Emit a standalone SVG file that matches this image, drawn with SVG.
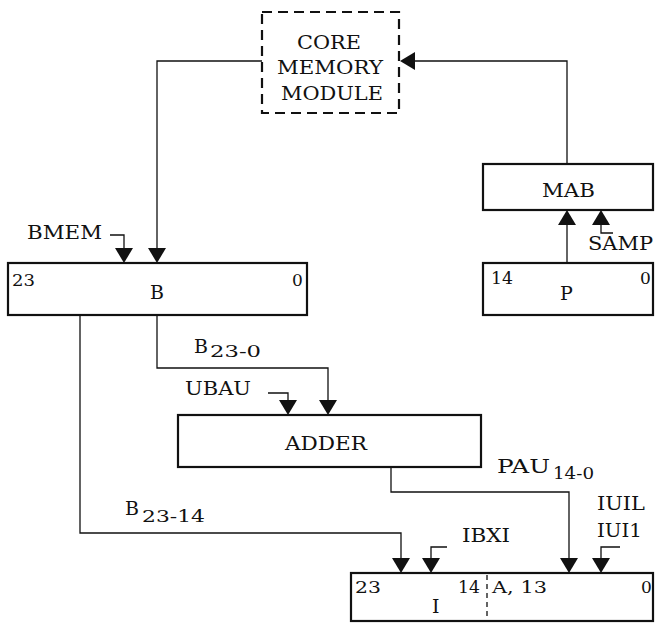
<svg xmlns="http://www.w3.org/2000/svg" width="656" height="623" viewBox="0 0 656 623">
<style>
text{font-family:"DejaVu Serif","Liberation Serif",serif;font-size:19px;fill:#111}
.n{font-size:17px}
.s{font-size:17px}
.box{fill:#fff;stroke:#111;stroke-width:2.2}
.dash{fill:#fff;stroke:#111;stroke-width:2.2;stroke-dasharray:10 6}
.ln{fill:none;stroke:#111;stroke-width:1.3}
.ah{fill:#111}
</style>
<rect width="656" height="623" fill="#fff"/>
<g id="connectors">
<path class="ln" d="M262 61 H157 V250"/>
<path class="ln" d="M567 164 V61 H414"/>
<path class="ln" d="M110 235 H124 V250"/>
<path class="ln" d="M567 263 V224"/>
<path class="ln" d="M613 233 H601 V224"/>
<path class="ln" d="M80 315 V533 H401 V558"/>
<path class="ln" d="M157 315 V368 H328 V400"/>
<path class="ln" d="M268 393 H288 V400"/>
<path class="ln" d="M391 467 V492 H569 V558"/>
<path class="ln" d="M447 547 H431 V558"/>
<path class="ln" d="M620 547 H601 V558"/>
<polygon class="ah" points="148,248 166,248 157,263"/>
<polygon class="ah" points="115,248 133,248 124,263"/>
<polygon class="ah" points="400,61 415,52 415,70"/>
<polygon class="ah" points="558,225 576,225 567,210"/>
<polygon class="ah" points="592,225 610,225 601,210"/>
<polygon class="ah" points="319,400 337,400 328,415"/>
<polygon class="ah" points="279,400 297,400 288,415"/>
<polygon class="ah" points="392,558 410,558 401,573"/>
<polygon class="ah" points="422,558 440,558 431,573"/>
<polygon class="ah" points="560,558 578,558 569,573"/>
<polygon class="ah" points="592,558 610,558 601,573"/>
</g>
<g id="core-memory">
<rect class="dash" x="262" y="12" width="137" height="101"/>
<text x="297" y="49" textLength="64" lengthAdjust="spacingAndGlyphs">CORE</text>
<text x="277" y="74" textLength="106" lengthAdjust="spacingAndGlyphs">MEMORY</text>
<text x="281" y="100" textLength="102" lengthAdjust="spacingAndGlyphs">MODULE</text>
</g>
<g id="mab">
<rect class="box" x="483" y="164" width="170" height="46"/>
<text x="542" y="197" textLength="53" lengthAdjust="spacingAndGlyphs">MAB</text>
</g>
<g id="b-reg">
<rect class="box" x="8" y="263" width="299" height="52"/>
<text class="n" x="12" y="286" textLength="23" lengthAdjust="spacingAndGlyphs">23</text>
<text class="n" x="292" y="286">0</text>
<text x="150" y="299">B</text>
</g>
<g id="p-reg">
<rect class="box" x="483" y="263" width="170" height="52"/>
<text class="n" x="491" y="284" textLength="22" lengthAdjust="spacingAndGlyphs">14</text>
<text class="n" x="640" y="284">0</text>
<text x="560" y="300">P</text>
</g>
<g id="adder">
<rect class="box" x="178" y="415" width="303" height="52"/>
<text x="285" y="450" textLength="82" lengthAdjust="spacingAndGlyphs">ADDER</text>
</g>
<g id="i-reg">
<rect class="box" x="351" y="573" width="302" height="48"/>
<line x1="487" y1="575" x2="487" y2="620" stroke="#111" stroke-width="1.3" stroke-dasharray="5 4"/>
<text class="n" x="355" y="593" textLength="26" lengthAdjust="spacingAndGlyphs">23</text>
<text class="n" x="458" y="593" textLength="22" lengthAdjust="spacingAndGlyphs">14</text>
<text class="n" x="492" y="593" textLength="55" lengthAdjust="spacingAndGlyphs">A, 13</text>
<text class="n" x="641" y="593">0</text>
<text x="432" y="613">I</text>
</g>
<g id="labels">
<text x="27" y="239" textLength="75" lengthAdjust="spacingAndGlyphs">BMEM</text>
<text x="588" y="250" textLength="65" lengthAdjust="spacingAndGlyphs">SAMP</text>
<text x="194" y="353">B</text><text class="s" x="210" y="357" textLength="51" lengthAdjust="spacingAndGlyphs">23-0</text>
<text x="185" y="395" textLength="66" lengthAdjust="spacingAndGlyphs">UBAU</text>
<text x="497" y="473" textLength="53" lengthAdjust="spacingAndGlyphs">PAU</text><text class="s" x="553" y="479" textLength="41" lengthAdjust="spacingAndGlyphs">14-0</text>
<text x="125" y="515">B</text><text class="s" x="142" y="522" textLength="63" lengthAdjust="spacingAndGlyphs">23-14</text>
<text x="462" y="542" textLength="48" lengthAdjust="spacingAndGlyphs">IBXI</text>
<text x="597" y="510" textLength="48" lengthAdjust="spacingAndGlyphs">IUIL</text>
<text x="597" y="537" textLength="45" lengthAdjust="spacingAndGlyphs">IUI1</text>
</g>
</svg>
